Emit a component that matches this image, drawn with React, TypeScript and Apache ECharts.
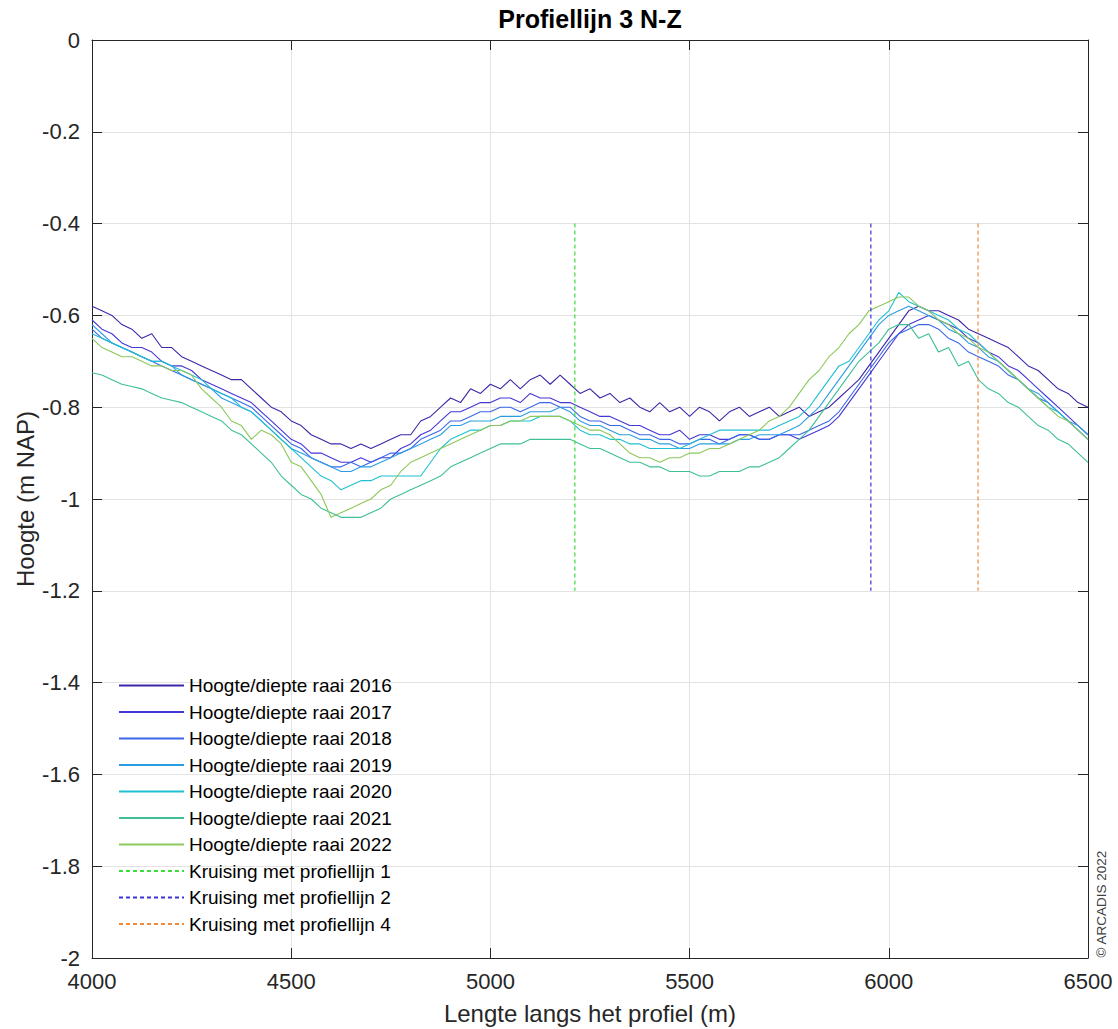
import React, { useEffect, useRef } from "react";
import * as echarts from "echarts";

const distance = [
  4000, 4025, 4050, 4075, 4100, 4125, 4150, 4175, 4200, 4225,
  4250, 4275, 4300, 4325, 4350, 4375, 4400, 4425, 4450, 4475,
  4500, 4525, 4550, 4575, 4600, 4625, 4650, 4675, 4700, 4725,
  4750, 4775, 4800, 4825, 4850, 4875, 4900, 4925, 4950, 4975,
  5000, 5025, 5050, 5075, 5100, 5125, 5150, 5175, 5200, 5225,
  5250, 5275, 5300, 5325, 5350, 5375, 5400, 5425, 5450, 5475,
  5500, 5525, 5550, 5575, 5600, 5625, 5650, 5675, 5700, 5725,
  5750, 5775, 5800, 5825, 5850, 5875, 5900, 5925, 5950, 5975,
  6000, 6025, 6050, 6075, 6100, 6125, 6150, 6175, 6200, 6225,
  6250, 6275, 6300, 6325, 6350, 6375, 6400, 6425, 6450, 6475,
  6500,
];

const h2016 = [
  -0.58, -0.59, -0.60, -0.62, -0.63, -0.65, -0.64, -0.67, -0.67, -0.69,
  -0.70, -0.71, -0.72, -0.73, -0.74, -0.74, -0.76, -0.78, -0.80, -0.81,
  -0.83, -0.84, -0.86, -0.87, -0.88, -0.88, -0.89, -0.88, -0.89, -0.88,
  -0.87, -0.86, -0.86, -0.83, -0.82, -0.80, -0.78, -0.79, -0.76, -0.77,
  -0.75, -0.76, -0.74, -0.76, -0.74, -0.73, -0.75, -0.73, -0.75, -0.77,
  -0.76, -0.78, -0.77, -0.79, -0.78, -0.80, -0.81, -0.79, -0.81, -0.80,
  -0.82, -0.80, -0.81, -0.83, -0.81, -0.80, -0.82, -0.81, -0.80, -0.82,
  -0.81, -0.80, -0.82, -0.81, -0.80, -0.78, -0.76, -0.74, -0.71, -0.68,
  -0.65, -0.62, -0.59, -0.58, -0.59, -0.59, -0.60, -0.61, -0.63, -0.64,
  -0.65, -0.66, -0.67, -0.69, -0.71, -0.72, -0.74, -0.76, -0.77, -0.79,
  -0.80,
];
const h2017 = [
  -0.61, -0.63, -0.64, -0.66, -0.67, -0.67, -0.68, -0.70, -0.71, -0.71,
  -0.72, -0.74, -0.75, -0.76, -0.77, -0.78, -0.79, -0.81, -0.83, -0.85,
  -0.87, -0.88, -0.90, -0.90, -0.91, -0.92, -0.92, -0.91, -0.92, -0.91,
  -0.91, -0.89, -0.88, -0.86, -0.85, -0.83, -0.81, -0.81, -0.80, -0.79,
  -0.79, -0.78, -0.78, -0.79, -0.77, -0.78, -0.78, -0.79, -0.79, -0.80,
  -0.81, -0.82, -0.82, -0.83, -0.84, -0.84, -0.85, -0.86, -0.86, -0.85,
  -0.87, -0.86, -0.86, -0.87, -0.87, -0.86, -0.86, -0.87, -0.87, -0.86,
  -0.86, -0.87, -0.86, -0.85, -0.84, -0.82, -0.79, -0.76, -0.73, -0.70,
  -0.67, -0.64, -0.62, -0.61, -0.60, -0.61, -0.62, -0.63, -0.65, -0.66,
  -0.68, -0.69, -0.71, -0.72, -0.74, -0.76, -0.78, -0.80, -0.82, -0.84,
  -0.86,
];
const h2018 = [
  -0.63, -0.65, -0.66, -0.67, -0.68, -0.69, -0.70, -0.71, -0.72, -0.73,
  -0.74, -0.75, -0.76, -0.77, -0.78, -0.79, -0.80, -0.82, -0.84, -0.86,
  -0.88, -0.89, -0.91, -0.92, -0.93, -0.93, -0.92, -0.93, -0.92, -0.91,
  -0.90, -0.90, -0.89, -0.87, -0.86, -0.85, -0.83, -0.83, -0.82, -0.81,
  -0.81, -0.80, -0.80, -0.81, -0.80, -0.79, -0.79, -0.80, -0.80, -0.82,
  -0.83, -0.83, -0.84, -0.84, -0.85, -0.86, -0.86, -0.87, -0.87, -0.88,
  -0.88, -0.87, -0.87, -0.88, -0.87, -0.86, -0.86, -0.87, -0.87, -0.86,
  -0.86, -0.86, -0.85, -0.84, -0.83, -0.81, -0.78, -0.75, -0.72, -0.69,
  -0.66, -0.64, -0.63, -0.62, -0.62, -0.63, -0.65, -0.66, -0.68, -0.69,
  -0.70, -0.71, -0.73, -0.74, -0.76, -0.78, -0.79, -0.81, -0.83, -0.85,
  -0.87,
];
const h2019 = [
  -0.62, -0.64, -0.66, -0.67, -0.68, -0.69, -0.70, -0.70, -0.71, -0.73,
  -0.74, -0.75, -0.76, -0.78, -0.79, -0.80, -0.81, -0.83, -0.85, -0.87,
  -0.89, -0.90, -0.91, -0.92, -0.93, -0.94, -0.94, -0.93, -0.93, -0.92,
  -0.91, -0.90, -0.89, -0.88, -0.87, -0.86, -0.84, -0.84, -0.83, -0.83,
  -0.83, -0.82, -0.82, -0.82, -0.81, -0.81, -0.81, -0.80, -0.81, -0.83,
  -0.84, -0.84, -0.85, -0.86, -0.86, -0.87, -0.87, -0.88, -0.88, -0.89,
  -0.89, -0.88, -0.88, -0.88, -0.88, -0.87, -0.87, -0.86, -0.86, -0.86,
  -0.85, -0.84, -0.82, -0.80, -0.77, -0.74, -0.71, -0.68, -0.65, -0.62,
  -0.60, -0.59, -0.58, -0.59, -0.60, -0.61, -0.63, -0.64, -0.66, -0.67,
  -0.69, -0.70, -0.72, -0.74, -0.76, -0.77, -0.79, -0.81, -0.83, -0.84,
  -0.86,
];
const h2020 = [
  -0.64, -0.65, -0.66, -0.67, -0.68, -0.69, -0.70, -0.70, -0.71, -0.72,
  -0.73, -0.74, -0.76, -0.77, -0.78, -0.80, -0.81, -0.83, -0.85, -0.87,
  -0.89, -0.91, -0.93, -0.95, -0.96, -0.98, -0.97, -0.96, -0.96, -0.95,
  -0.95, -0.95, -0.95, -0.95, -0.92, -0.89, -0.87, -0.86, -0.85, -0.85,
  -0.84, -0.84, -0.83, -0.83, -0.83, -0.82, -0.82, -0.82, -0.83, -0.85,
  -0.86, -0.86, -0.87, -0.87, -0.88, -0.88, -0.89, -0.89, -0.89, -0.89,
  -0.88, -0.87, -0.86, -0.85, -0.85, -0.85, -0.85, -0.85, -0.85, -0.84,
  -0.83, -0.82, -0.80, -0.77, -0.74, -0.71, -0.70, -0.67, -0.64, -0.61,
  -0.59, -0.55, -0.57, -0.58, -0.59, -0.60, -0.61, -0.63, -0.64, -0.66,
  -0.68, -0.70, -0.72, -0.74, -0.76, -0.78, -0.80, -0.81, -0.83, -0.85,
  -0.87,
];
const h2021 = [
  -0.725, -0.73, -0.74, -0.75, -0.755, -0.76, -0.77, -0.78, -0.785, -0.79,
  -0.80, -0.81, -0.82, -0.83, -0.85, -0.86, -0.88, -0.90, -0.92, -0.95,
  -0.97, -0.99, -1.00, -1.02, -1.03, -1.04, -1.04, -1.04, -1.03, -1.02,
  -1.00, -0.99, -0.98, -0.97, -0.96, -0.95, -0.93, -0.92, -0.91, -0.90,
  -0.89, -0.88, -0.88, -0.88, -0.87, -0.87, -0.87, -0.87, -0.87, -0.88,
  -0.89, -0.89, -0.90, -0.91, -0.92, -0.92, -0.93, -0.93, -0.94, -0.94,
  -0.94, -0.95, -0.95, -0.94, -0.94, -0.94, -0.93, -0.93, -0.92, -0.91,
  -0.89, -0.87, -0.85, -0.82, -0.79, -0.76, -0.73, -0.70, -0.68, -0.66,
  -0.63, -0.62, -0.62, -0.65, -0.64, -0.68, -0.67, -0.71, -0.70, -0.74,
  -0.76, -0.77, -0.79, -0.80, -0.82, -0.84, -0.85, -0.87, -0.88, -0.90,
  -0.92,
];
const h2022 = [
  -0.65, -0.67, -0.68, -0.69, -0.69, -0.70, -0.71, -0.71, -0.72, -0.72,
  -0.73, -0.76, -0.78, -0.80, -0.83, -0.84, -0.87, -0.85, -0.86, -0.88,
  -0.92, -0.93, -0.96, -0.99, -1.04, -1.03, -1.02, -1.01, -1.00, -0.98,
  -0.97, -0.94, -0.92, -0.91, -0.90, -0.89, -0.88, -0.87, -0.86, -0.85,
  -0.84, -0.84, -0.83, -0.83, -0.82, -0.82, -0.82, -0.82, -0.83, -0.84,
  -0.85, -0.85, -0.86, -0.88, -0.90, -0.91, -0.91, -0.92, -0.91, -0.91,
  -0.90, -0.90, -0.89, -0.89, -0.88, -0.87, -0.86, -0.85, -0.83, -0.82,
  -0.80, -0.77, -0.74, -0.72, -0.69, -0.67, -0.64, -0.62, -0.59, -0.58,
  -0.57, -0.56, -0.56, -0.58, -0.59, -0.61, -0.62, -0.64, -0.65, -0.67,
  -0.68, -0.70, -0.72, -0.74, -0.76, -0.78, -0.80, -0.82, -0.83, -0.85,
  -0.87,
];

const yearNames = [
  "Hoogte/diepte raai 2016",
  "Hoogte/diepte raai 2017",
  "Hoogte/diepte raai 2018",
  "Hoogte/diepte raai 2019",
  "Hoogte/diepte raai 2020",
  "Hoogte/diepte raai 2021",
  "Hoogte/diepte raai 2022",
];
const yearValues = [h2016, h2017, h2018, h2019, h2020, h2021, h2022];
const yearColors = ["#3e26a8", "#4536d6", "#3a66ea", "#2a9de2", "#1ec0d2", "#3ebf98", "#8cc85a"];

const crossingNames = [
  "Kruising met profiellijn 1",
  "Kruising met profiellijn 2",
  "Kruising met profiellijn 4",
];
const crossingX = [5212, 5955, 6224];
const crossingY = [-0.4, -1.2];
const crossingColors = ["#3ddc3d", "#3b34d8", "#f08a3a"];

const xTicks = ["4000", "4500", "5000", "5500", "6000", "6500"];

const FONT = "'Liberation Sans', Arial, Helvetica, sans-serif";

export default function App() {
  const ref = useRef<HTMLDivElement>(null);
  useEffect(() => {
    document.body.style.margin = "0";
    const chart = echarts.init(ref.current!, null, { renderer: "svg" });
    const lineSeries = yearNames.map((name, i) => ({
      name,
      type: "line",
      data: distance.map((d, j) => [d, yearValues[i][j]]),
      symbol: "none",
      xAxisIndex: 0,
      yAxisIndex: 0,
      lineStyle: { color: yearColors[i], width: 1.1 },
      itemStyle: { color: yearColors[i] },
      z: 3,
    }));
    const crossSeries = crossingNames.map((name, i) => ({
      name,
      type: "line",
      data: crossingY.map((y) => [crossingX[i], y]),
      symbol: "none",
      xAxisIndex: 0,
      yAxisIndex: 0,
      lineStyle: { color: crossingColors[i], width: 1.2, type: [4, 3] },
      itemStyle: { color: crossingColors[i] },
      z: 4,
    }));
    const axisCommon = {
      axisLine: { show: true, onZero: false, lineStyle: { color: "#262626", width: 1 } },
      axisTick: { show: true, inside: true, length: 10, lineStyle: { color: "#262626" } },
    };
    chart.setOption({
      animation: false,
      backgroundColor: "#ffffff",
      textStyle: { fontFamily: FONT },
      grid: { left: 92, right: 30, top: 40, bottom: 71, containLabel: false },
      legend: {
        orient: "vertical",
        left: 118,
        top: 676,
        padding: 0,
        itemWidth: 65,
        itemHeight: 14,
        itemGap: 7.5,
        itemStyle: { opacity: 0 },
        data: [...yearNames, ...crossingNames],
        textStyle: { fontSize: 19, lineHeight: 19, color: "#000000", fontFamily: FONT },
      },
      xAxis: [
        {
          type: "value",
          min: 4000,
          max: 6500,
          interval: 500,
          position: "bottom",
          ...axisCommon,
          axisLabel: {
            fontSize: 22,
            color: "#262626",
            margin: 12,
            fontFamily: FONT,
            formatter: (v: number) => {
              const s = String(Math.round(v));
              return xTicks.indexOf(s) >= 0 ? s : "";
            },
          },
          splitLine: { show: true, lineStyle: { color: "#e3e3e3", width: 1 } },
        },
        {
          type: "value",
          min: 4000,
          max: 6500,
          interval: 500,
          position: "top",
          ...axisCommon,
          axisLabel: { show: false },
          splitLine: { show: false },
        },
      ],
      yAxis: [
        {
          type: "value",
          min: -2,
          max: 0,
          interval: 0.2,
          position: "left",
          ...axisCommon,
          axisLabel: {
            fontSize: 22,
            color: "#262626",
            margin: 12,
            fontFamily: FONT,
            formatter: (v: number) => String(parseFloat(v.toFixed(1))),
          },
          splitLine: { show: true, lineStyle: { color: "#e3e3e3", width: 1 } },
        },
        {
          type: "value",
          min: -2,
          max: 0,
          interval: 0.2,
          position: "right",
          ...axisCommon,
          axisLabel: { show: false },
          splitLine: { show: false },
        },
      ],
      graphic: [
        {
          type: "text",
          x: 590,
          y: 19,
          style: {
            text: "Profiellijn 3 N-Z",
            font: `bold 25px ${FONT}`,
            fill: "#000000",
            textAlign: "center",
            textVerticalAlign: "middle",
          },
        },
        {
          type: "text",
          x: 590,
          y: 1013,
          style: {
            text: "Lengte langs het profiel (m)",
            font: `24px ${FONT}`,
            fill: "#262626",
            textAlign: "center",
            textVerticalAlign: "middle",
          },
        },
        {
          type: "text",
          x: 25,
          y: 499,
          rotation: Math.PI / 2,
          style: {
            text: "Hoogte (m NAP)",
            font: `24px ${FONT}`,
            fill: "#262626",
            textAlign: "center",
            textVerticalAlign: "middle",
          },
        },
        {
          type: "text",
          x: 1101,
          y: 904,
          rotation: Math.PI / 2,
          style: {
            text: "© ARCADIS 2022",
            font: `13.5px ${FONT}`,
            fill: "#404040",
            textAlign: "center",
            textVerticalAlign: "middle",
          },
        },
      ],
      series: [...lineSeries, ...crossSeries],
    });
    return () => chart.dispose();
  }, []);
  return <div ref={ref} style={{ width: 1118, height: 1029 }} />;
}
